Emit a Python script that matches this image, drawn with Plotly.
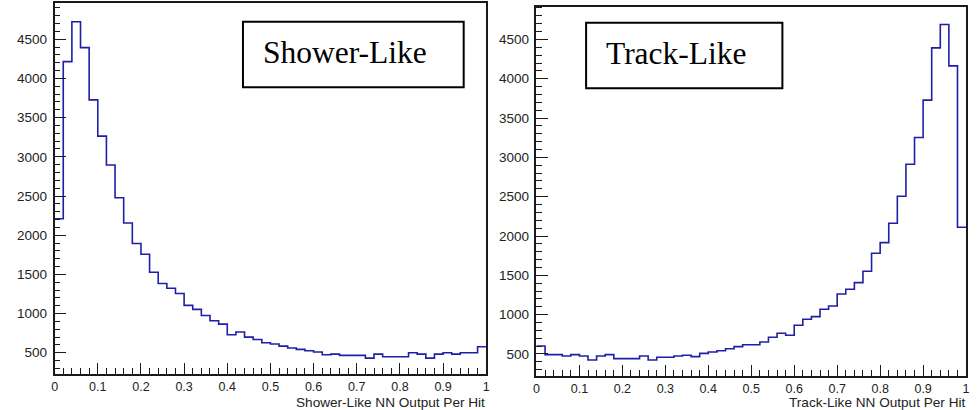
import plotly.graph_objects as go

# Bin edges shared by both histograms: 50 bins over [0, 1]
n_bins = 50
bin_edges = [i / n_bins for i in range(n_bins + 1)]

# Per-hit network output, shower-like score
shower_counts = [2210, 4215, 4724, 4393, 3727, 3264, 2895, 2478, 2156, 1894,
                 1757, 1528, 1384, 1324, 1257, 1104, 1053, 976, 908, 866,
                 729, 764, 700, 670, 627, 611, 585, 560, 543, 525,
                 509, 475, 483, 467, 467, 467, 432, 483, 449, 449,
                 449, 500, 483, 432, 483, 500, 483, 500, 500, 577]

# Per-hit network output, track-like score
track_counts = [602, 492, 492, 475, 492, 475, 424, 475, 492, 441,
                441, 441, 475, 424, 458, 458, 475, 483, 466, 508,
                525, 542, 567, 593, 618, 618, 653, 712, 763, 738,
                865, 941, 975, 1069, 1111, 1263, 1323, 1407, 1552, 1781,
                1916, 2163, 2506, 2913, 3253, 3728, 4393, 4691, 4164, 2112]

panel_labels = ["Shower-Like", "Track-Like"]
axis_titles = ["Shower-Like NN Output Per Hit", "Track-Like NN Output Per Hit"]

W, H = 980, 410
LINE = "#1f1fa6"
FRAME = "#1a1a1a"
SANS = "Liberation Sans, Arial, Helvetica, sans-serif"
SERIF = "Liberation Serif, Times New Roman, serif"

def px_x(v):
    return v / W

def px_y(v):
    return 1 - v / H

fig = go.Figure()

for i, counts in enumerate([shower_counts, track_counts]):
    suffix = "" if i == 0 else "2"
    fig.add_trace(go.Scatter(
        x=bin_edges,
        y=counts + [counts[-1]],
        mode="lines",
        line=dict(shape="hv", color=LINE, width=1.6),
        xaxis="x" + suffix,
        yaxis="y" + suffix,
        showlegend=False,
        hoverinfo="skip",
    ))

def x_axis(domain, anchor):
    return dict(
        domain=domain, anchor=anchor, range=[0, 1],
        tickmode="linear", tick0=0, dtick=0.1,
        ticks="inside", ticklen=11, tickwidth=1.3, tickcolor=FRAME,
        minor=dict(ticks="inside", ticklen=6, dtick=0.02, tickwidth=1.2,
                   tickcolor=FRAME, showgrid=False),
        showline=True, linecolor=FRAME, linewidth=1.6, mirror=True,
        showgrid=False, zeroline=False,
        tickfont=dict(family=SANS, size=12.5, color="#222"),
        ticklabelstandoff=0,
    )

def y_axis(domain, anchor, yrange):
    return dict(
        domain=domain, anchor=anchor, range=yrange,
        tickmode="linear", tick0=0, dtick=500,
        ticks="inside", ticklen=12, tickwidth=1.3, tickcolor=FRAME,
        minor=dict(ticks="inside", ticklen=6, dtick=100, tickwidth=1.2,
                   tickcolor=FRAME, showgrid=False),
        showline=True, linecolor=FRAME, linewidth=1.6, mirror=True,
        showgrid=False, zeroline=False,
        tickfont=dict(family=SANS, size=13.5, color="#222"),
        ticklabelstandoff=3,
    )

left_x = [px_x(52), px_x(486.7)]
right_x = [px_x(537.3), px_x(970)]
left_y = [px_y(374), px_y(3.3)]
right_y = [px_y(376), px_y(6.5)]

# Label boxes: (x0, x1, top, bottom) in pixels
boxes = [(241.7, 464, 21.7, 87.3), (587.3, 785, 22.7, 88.3)]
shapes = []
annotations = []
for (x0, x1, top, bot), label in zip(boxes, panel_labels):
    shapes.append(dict(type="rect", xref="paper", yref="paper",
                       x0=px_x(x0), x1=px_x(x1), y0=px_y(bot), y1=px_y(top),
                       line=dict(color="black", width=2), fillcolor="white",
                       layer="above"))
    annotations.append(dict(text=label, xref="paper", yref="paper",
                            x=px_x(x0 + 18), y=px_y((top + bot) / 2 - 2.5),
                            xanchor="left", yanchor="middle", showarrow=False,
                            font=dict(family=SERIF, size=31.5, color="black")))

for title, right_edge in zip(axis_titles, [486.7, 970]):
    annotations.append(dict(text=title, xref="paper", yref="paper",
                            x=px_x(right_edge), y=px_y(402.5), borderpad=0,
                            xanchor="right", yanchor="middle", showarrow=False,
                            font=dict(family=SANS, size=13.6, color="#222")))

fig.update_layout(
    width=W, height=H,
    margin=dict(l=0, r=0, t=0, b=0),
    paper_bgcolor="white", plot_bgcolor="white",
    xaxis=x_axis(left_x, "y"),
    yaxis=y_axis(left_y, "x", [229, 4959]),
    xaxis2=x_axis(right_x, "y2"),
    yaxis2=y_axis(right_y, "x2", [220, 4919]),
    shapes=shapes,
    annotations=annotations,
)

fig.write_html("out.html")
